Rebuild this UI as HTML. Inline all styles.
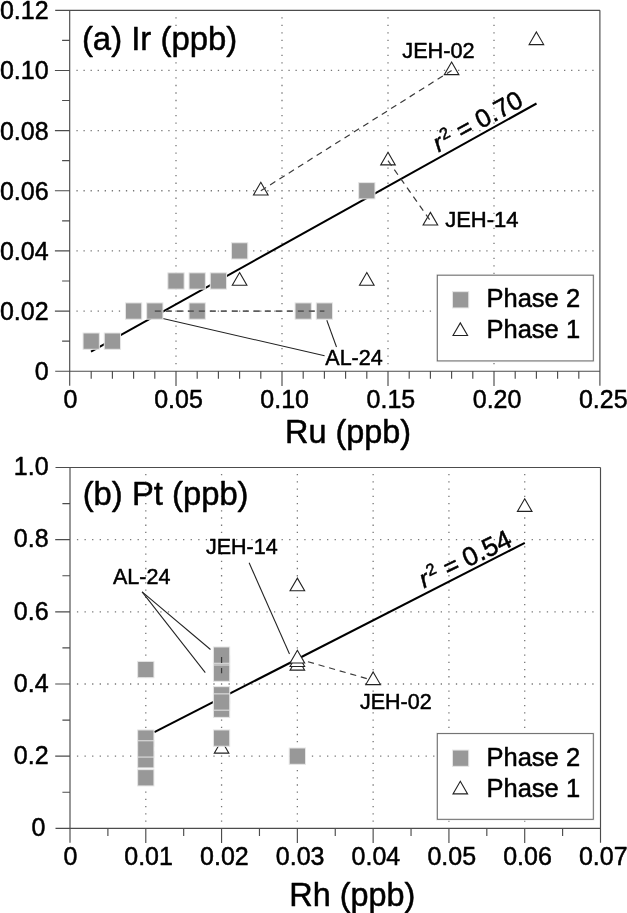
<!DOCTYPE html><html><head><meta charset="utf-8"><title>chart</title><style>html,body{margin:0;padding:0;background:#fff}svg{display:block}text{stroke:#000;stroke-width:.5px;stroke-linejoin:round}</style></head><body>
<svg width="627" height="913" viewBox="0 0 627 913">
<defs><filter id="soft" x="0" y="0" width="627" height="913" filterUnits="userSpaceOnUse" color-interpolation-filters="sRGB"><feGaussianBlur stdDeviation="0.38"/></filter></defs>
<g filter="url(#soft)">
<rect width="627" height="913" fill="#fff"/>
<path d="M76.42 70.45h1.3M76.42 130.60h1.3M76.42 190.75h1.3M76.42 250.90h1.3M76.42 311.05h1.3M83.48 70.45h1.3M83.48 130.60h1.3M83.48 190.75h1.3M83.48 250.90h1.3M83.48 311.05h1.3M90.55 70.45h1.3M90.55 130.60h1.3M90.55 190.75h1.3M90.55 250.90h1.3M90.55 311.05h1.3M97.62 70.45h1.3M97.62 130.60h1.3M97.62 190.75h1.3M97.62 250.90h1.3M97.62 311.05h1.3M104.68 70.45h1.3M104.68 130.60h1.3M104.68 190.75h1.3M104.68 250.90h1.3M104.68 311.05h1.3M111.75 70.45h1.3M111.75 130.60h1.3M111.75 190.75h1.3M111.75 250.90h1.3M111.75 311.05h1.3M118.82 70.45h1.3M118.82 130.60h1.3M118.82 190.75h1.3M118.82 250.90h1.3M118.82 311.05h1.3M125.88 70.45h1.3M125.88 130.60h1.3M125.88 190.75h1.3M125.88 250.90h1.3M125.88 311.05h1.3M132.95 70.45h1.3M132.95 130.60h1.3M132.95 190.75h1.3M132.95 250.90h1.3M132.95 311.05h1.3M140.02 70.45h1.3M140.02 130.60h1.3M140.02 190.75h1.3M140.02 250.90h1.3M140.02 311.05h1.3M147.08 70.45h1.3M147.08 130.60h1.3M147.08 190.75h1.3M147.08 250.90h1.3M147.08 311.05h1.3M154.15 70.45h1.3M154.15 130.60h1.3M154.15 190.75h1.3M154.15 250.90h1.3M154.15 311.05h1.3M161.22 70.45h1.3M161.22 130.60h1.3M161.22 190.75h1.3M161.22 250.90h1.3M161.22 311.05h1.3M168.28 70.45h1.3M168.28 130.60h1.3M168.28 190.75h1.3M168.28 250.90h1.3M168.28 311.05h1.3M175.35 17.82h1.3M175.35 25.34h1.3M175.35 32.86h1.3M175.35 40.38h1.3M175.35 47.89h1.3M175.35 55.41h1.3M175.35 62.93h1.3M175.35 70.45h1.3M175.35 77.97h1.3M175.35 85.49h1.3M175.35 93.01h1.3M175.35 100.52h1.3M175.35 108.04h1.3M175.35 115.56h1.3M175.35 123.08h1.3M175.35 130.60h1.3M175.35 138.12h1.3M175.35 145.64h1.3M175.35 153.16h1.3M175.35 160.67h1.3M175.35 168.19h1.3M175.35 175.71h1.3M175.35 183.23h1.3M175.35 190.75h1.3M175.35 198.27h1.3M175.35 205.79h1.3M175.35 213.31h1.3M175.35 220.82h1.3M175.35 228.34h1.3M175.35 235.86h1.3M175.35 243.38h1.3M175.35 250.90h1.3M175.35 258.42h1.3M175.35 265.94h1.3M175.35 273.46h1.3M175.35 280.98h1.3M175.35 288.49h1.3M175.35 296.01h1.3M175.35 303.53h1.3M175.35 311.05h1.3M175.35 318.57h1.3M175.35 326.09h1.3M175.35 333.61h1.3M175.35 341.12h1.3M175.35 348.64h1.3M175.35 356.16h1.3M175.35 363.68h1.3M182.42 70.45h1.3M182.42 130.60h1.3M182.42 190.75h1.3M182.42 250.90h1.3M182.42 311.05h1.3M189.48 70.45h1.3M189.48 130.60h1.3M189.48 190.75h1.3M189.48 250.90h1.3M189.48 311.05h1.3M196.55 70.45h1.3M196.55 130.60h1.3M196.55 190.75h1.3M196.55 250.90h1.3M196.55 311.05h1.3M203.62 70.45h1.3M203.62 130.60h1.3M203.62 190.75h1.3M203.62 250.90h1.3M203.62 311.05h1.3M210.68 70.45h1.3M210.68 130.60h1.3M210.68 190.75h1.3M210.68 250.90h1.3M210.68 311.05h1.3M217.75 70.45h1.3M217.75 130.60h1.3M217.75 190.75h1.3M217.75 250.90h1.3M217.75 311.05h1.3M224.82 70.45h1.3M224.82 130.60h1.3M224.82 190.75h1.3M224.82 250.90h1.3M224.82 311.05h1.3M231.88 70.45h1.3M231.88 130.60h1.3M231.88 190.75h1.3M231.88 250.90h1.3M231.88 311.05h1.3M238.95 70.45h1.3M238.95 130.60h1.3M238.95 190.75h1.3M238.95 250.90h1.3M238.95 311.05h1.3M246.02 70.45h1.3M246.02 130.60h1.3M246.02 190.75h1.3M246.02 250.90h1.3M246.02 311.05h1.3M253.08 70.45h1.3M253.08 130.60h1.3M253.08 190.75h1.3M253.08 250.90h1.3M253.08 311.05h1.3M260.15 70.45h1.3M260.15 130.60h1.3M260.15 190.75h1.3M260.15 250.90h1.3M260.15 311.05h1.3M267.22 70.45h1.3M267.22 130.60h1.3M267.22 190.75h1.3M267.22 250.90h1.3M267.22 311.05h1.3M274.28 70.45h1.3M274.28 130.60h1.3M274.28 190.75h1.3M274.28 250.90h1.3M274.28 311.05h1.3M281.35 17.82h1.3M281.35 25.34h1.3M281.35 32.86h1.3M281.35 40.38h1.3M281.35 47.89h1.3M281.35 55.41h1.3M281.35 62.93h1.3M281.35 70.45h1.3M281.35 77.97h1.3M281.35 85.49h1.3M281.35 93.01h1.3M281.35 100.52h1.3M281.35 108.04h1.3M281.35 115.56h1.3M281.35 123.08h1.3M281.35 130.60h1.3M281.35 138.12h1.3M281.35 145.64h1.3M281.35 153.16h1.3M281.35 160.67h1.3M281.35 168.19h1.3M281.35 175.71h1.3M281.35 183.23h1.3M281.35 190.75h1.3M281.35 198.27h1.3M281.35 205.79h1.3M281.35 213.31h1.3M281.35 220.82h1.3M281.35 228.34h1.3M281.35 235.86h1.3M281.35 243.38h1.3M281.35 250.90h1.3M281.35 258.42h1.3M281.35 265.94h1.3M281.35 273.46h1.3M281.35 280.98h1.3M281.35 288.49h1.3M281.35 296.01h1.3M281.35 303.53h1.3M281.35 311.05h1.3M281.35 318.57h1.3M281.35 326.09h1.3M281.35 333.61h1.3M281.35 341.12h1.3M281.35 348.64h1.3M281.35 356.16h1.3M281.35 363.68h1.3M288.42 70.45h1.3M288.42 130.60h1.3M288.42 190.75h1.3M288.42 250.90h1.3M288.42 311.05h1.3M295.48 70.45h1.3M295.48 130.60h1.3M295.48 190.75h1.3M295.48 250.90h1.3M295.48 311.05h1.3M302.55 70.45h1.3M302.55 130.60h1.3M302.55 190.75h1.3M302.55 250.90h1.3M302.55 311.05h1.3M309.62 70.45h1.3M309.62 130.60h1.3M309.62 190.75h1.3M309.62 250.90h1.3M309.62 311.05h1.3M316.68 70.45h1.3M316.68 130.60h1.3M316.68 190.75h1.3M316.68 250.90h1.3M316.68 311.05h1.3M323.75 70.45h1.3M323.75 130.60h1.3M323.75 190.75h1.3M323.75 250.90h1.3M323.75 311.05h1.3M330.82 70.45h1.3M330.82 130.60h1.3M330.82 190.75h1.3M330.82 250.90h1.3M330.82 311.05h1.3M337.88 70.45h1.3M337.88 130.60h1.3M337.88 190.75h1.3M337.88 250.90h1.3M337.88 311.05h1.3M344.95 70.45h1.3M344.95 130.60h1.3M344.95 190.75h1.3M344.95 250.90h1.3M344.95 311.05h1.3M352.02 70.45h1.3M352.02 130.60h1.3M352.02 190.75h1.3M352.02 250.90h1.3M352.02 311.05h1.3M359.08 70.45h1.3M359.08 130.60h1.3M359.08 190.75h1.3M359.08 250.90h1.3M359.08 311.05h1.3M366.15 70.45h1.3M366.15 130.60h1.3M366.15 190.75h1.3M366.15 250.90h1.3M366.15 311.05h1.3M373.22 70.45h1.3M373.22 130.60h1.3M373.22 190.75h1.3M373.22 250.90h1.3M373.22 311.05h1.3M380.28 70.45h1.3M380.28 130.60h1.3M380.28 190.75h1.3M380.28 250.90h1.3M380.28 311.05h1.3M387.35 17.82h1.3M387.35 25.34h1.3M387.35 32.86h1.3M387.35 40.38h1.3M387.35 47.89h1.3M387.35 55.41h1.3M387.35 62.93h1.3M387.35 70.45h1.3M387.35 77.97h1.3M387.35 85.49h1.3M387.35 93.01h1.3M387.35 100.52h1.3M387.35 108.04h1.3M387.35 115.56h1.3M387.35 123.08h1.3M387.35 130.60h1.3M387.35 138.12h1.3M387.35 145.64h1.3M387.35 153.16h1.3M387.35 160.67h1.3M387.35 168.19h1.3M387.35 175.71h1.3M387.35 183.23h1.3M387.35 190.75h1.3M387.35 198.27h1.3M387.35 205.79h1.3M387.35 213.31h1.3M387.35 220.82h1.3M387.35 228.34h1.3M387.35 235.86h1.3M387.35 243.38h1.3M387.35 250.90h1.3M387.35 258.42h1.3M387.35 265.94h1.3M387.35 273.46h1.3M387.35 280.98h1.3M387.35 288.49h1.3M387.35 296.01h1.3M387.35 303.53h1.3M387.35 311.05h1.3M387.35 318.57h1.3M387.35 326.09h1.3M387.35 333.61h1.3M387.35 341.12h1.3M387.35 348.64h1.3M387.35 356.16h1.3M387.35 363.68h1.3M394.42 70.45h1.3M394.42 130.60h1.3M394.42 190.75h1.3M394.42 250.90h1.3M394.42 311.05h1.3M401.48 70.45h1.3M401.48 130.60h1.3M401.48 190.75h1.3M401.48 250.90h1.3M401.48 311.05h1.3M408.55 70.45h1.3M408.55 130.60h1.3M408.55 190.75h1.3M408.55 250.90h1.3M408.55 311.05h1.3M415.62 70.45h1.3M415.62 130.60h1.3M415.62 190.75h1.3M415.62 250.90h1.3M415.62 311.05h1.3M422.68 70.45h1.3M422.68 130.60h1.3M422.68 190.75h1.3M422.68 250.90h1.3M422.68 311.05h1.3M429.75 70.45h1.3M429.75 130.60h1.3M429.75 190.75h1.3M429.75 250.90h1.3M429.75 311.05h1.3M436.82 70.45h1.3M436.82 130.60h1.3M436.82 190.75h1.3M436.82 250.90h1.3M436.82 311.05h1.3M443.88 70.45h1.3M443.88 130.60h1.3M443.88 190.75h1.3M443.88 250.90h1.3M443.88 311.05h1.3M450.95 70.45h1.3M450.95 130.60h1.3M450.95 190.75h1.3M450.95 250.90h1.3M450.95 311.05h1.3M458.02 70.45h1.3M458.02 130.60h1.3M458.02 190.75h1.3M458.02 250.90h1.3M458.02 311.05h1.3M465.08 70.45h1.3M465.08 130.60h1.3M465.08 190.75h1.3M465.08 250.90h1.3M465.08 311.05h1.3M472.15 70.45h1.3M472.15 130.60h1.3M472.15 190.75h1.3M472.15 250.90h1.3M472.15 311.05h1.3M479.22 70.45h1.3M479.22 130.60h1.3M479.22 190.75h1.3M479.22 250.90h1.3M479.22 311.05h1.3M486.28 70.45h1.3M486.28 130.60h1.3M486.28 190.75h1.3M486.28 250.90h1.3M486.28 311.05h1.3M493.35 17.82h1.3M493.35 25.34h1.3M493.35 32.86h1.3M493.35 40.38h1.3M493.35 47.89h1.3M493.35 55.41h1.3M493.35 62.93h1.3M493.35 70.45h1.3M493.35 77.97h1.3M493.35 85.49h1.3M493.35 93.01h1.3M493.35 100.52h1.3M493.35 108.04h1.3M493.35 115.56h1.3M493.35 123.08h1.3M493.35 130.60h1.3M493.35 138.12h1.3M493.35 145.64h1.3M493.35 153.16h1.3M493.35 160.67h1.3M493.35 168.19h1.3M493.35 175.71h1.3M493.35 183.23h1.3M493.35 190.75h1.3M493.35 198.27h1.3M493.35 205.79h1.3M493.35 213.31h1.3M493.35 220.82h1.3M493.35 228.34h1.3M493.35 235.86h1.3M493.35 243.38h1.3M493.35 250.90h1.3M493.35 258.42h1.3M493.35 265.94h1.3M493.35 273.46h1.3M493.35 280.98h1.3M493.35 288.49h1.3M493.35 296.01h1.3M493.35 303.53h1.3M493.35 311.05h1.3M493.35 318.57h1.3M493.35 326.09h1.3M493.35 333.61h1.3M493.35 341.12h1.3M493.35 348.64h1.3M493.35 356.16h1.3M493.35 363.68h1.3M500.42 70.45h1.3M500.42 130.60h1.3M500.42 190.75h1.3M500.42 250.90h1.3M500.42 311.05h1.3M507.48 70.45h1.3M507.48 130.60h1.3M507.48 190.75h1.3M507.48 250.90h1.3M507.48 311.05h1.3M514.55 70.45h1.3M514.55 130.60h1.3M514.55 190.75h1.3M514.55 250.90h1.3M514.55 311.05h1.3M521.62 70.45h1.3M521.62 130.60h1.3M521.62 190.75h1.3M521.62 250.90h1.3M521.62 311.05h1.3M528.68 70.45h1.3M528.68 130.60h1.3M528.68 190.75h1.3M528.68 250.90h1.3M528.68 311.05h1.3M535.75 70.45h1.3M535.75 130.60h1.3M535.75 190.75h1.3M535.75 250.90h1.3M535.75 311.05h1.3M542.82 70.45h1.3M542.82 130.60h1.3M542.82 190.75h1.3M542.82 250.90h1.3M542.82 311.05h1.3M549.88 70.45h1.3M549.88 130.60h1.3M549.88 190.75h1.3M549.88 250.90h1.3M549.88 311.05h1.3M556.95 70.45h1.3M556.95 130.60h1.3M556.95 190.75h1.3M556.95 250.90h1.3M556.95 311.05h1.3M564.02 70.45h1.3M564.02 130.60h1.3M564.02 190.75h1.3M564.02 250.90h1.3M564.02 311.05h1.3M571.08 70.45h1.3M571.08 130.60h1.3M571.08 190.75h1.3M571.08 250.90h1.3M571.08 311.05h1.3M578.15 70.45h1.3M578.15 130.60h1.3M578.15 190.75h1.3M578.15 250.90h1.3M578.15 311.05h1.3M585.22 70.45h1.3M585.22 130.60h1.3M585.22 190.75h1.3M585.22 250.90h1.3M585.22 311.05h1.3M592.28 70.45h1.3M592.28 130.60h1.3M592.28 190.75h1.3M592.28 250.90h1.3M592.28 311.05h1.3" stroke="#777" stroke-width="1.3" fill="none"/>
<path d="M91 351.6L536.5 103.5" stroke="#000" stroke-width="2.05" fill="none"/>
<path d="M162.80 318.60L324.60 355.70" stroke="#222" stroke-width="1.05" fill="none"/>
<path d="M326.80 320.20L336.50 347.00" stroke="#222" stroke-width="1.05" fill="none"/>
<path d="M239.60 272.55L246.90 285.19L232.30 285.19Z" fill="#fff" stroke="#222" stroke-width="1.1" stroke-linejoin="miter"/>
<path d="M260.80 182.32L268.10 194.96L253.50 194.96Z" fill="#fff" stroke="#222" stroke-width="1.1" stroke-linejoin="miter"/>
<path d="M366.80 272.55L374.10 285.19L359.50 285.19Z" fill="#fff" stroke="#222" stroke-width="1.1" stroke-linejoin="miter"/>
<path d="M388.00 152.25L395.30 164.89L380.70 164.89Z" fill="#fff" stroke="#222" stroke-width="1.1" stroke-linejoin="miter"/>
<path d="M430.40 212.40L437.70 225.04L423.10 225.04Z" fill="#fff" stroke="#222" stroke-width="1.1" stroke-linejoin="miter"/>
<path d="M451.60 62.02L458.90 74.66L444.30 74.66Z" fill="#fff" stroke="#222" stroke-width="1.1" stroke-linejoin="miter"/>
<path d="M536.40 31.95L543.70 44.59L529.10 44.59Z" fill="#fff" stroke="#222" stroke-width="1.1" stroke-linejoin="miter"/>
<rect x="83.05" y="332.98" width="16.30" height="16.30" fill="#989898" stroke="#e6e6e6" stroke-width="1"/>
<rect x="104.25" y="332.98" width="16.30" height="16.30" fill="#989898" stroke="#e6e6e6" stroke-width="1"/>
<rect x="125.45" y="302.90" width="16.30" height="16.30" fill="#989898" stroke="#e6e6e6" stroke-width="1"/>
<rect x="146.65" y="302.90" width="16.30" height="16.30" fill="#989898" stroke="#e6e6e6" stroke-width="1"/>
<rect x="167.85" y="272.83" width="16.30" height="16.30" fill="#989898" stroke="#e6e6e6" stroke-width="1"/>
<rect x="189.05" y="272.83" width="16.30" height="16.30" fill="#989898" stroke="#e6e6e6" stroke-width="1"/>
<rect x="210.25" y="272.83" width="16.30" height="16.30" fill="#989898" stroke="#e6e6e6" stroke-width="1"/>
<rect x="189.05" y="302.90" width="16.30" height="16.30" fill="#989898" stroke="#e6e6e6" stroke-width="1"/>
<rect x="231.45" y="242.75" width="16.30" height="16.30" fill="#989898" stroke="#e6e6e6" stroke-width="1"/>
<rect x="295.05" y="302.90" width="16.30" height="16.30" fill="#989898" stroke="#e6e6e6" stroke-width="1"/>
<rect x="316.25" y="302.90" width="16.30" height="16.30" fill="#989898" stroke="#e6e6e6" stroke-width="1"/>
<rect x="358.65" y="182.60" width="16.30" height="16.30" fill="#989898" stroke="#e6e6e6" stroke-width="1"/>
<path d="M154.80 311.05L324.40 311.05" stroke="#5c5c5c" stroke-width="1.8" stroke-dasharray="6 5" fill="none"/>
<path d="M260.80 190.75L451.60 70.45" stroke="#3a3a3a" stroke-width="1.2" stroke-dasharray="6.2 4.8" fill="none"/>
<path d="M388.00 160.67L430.40 220.82" stroke="#3a3a3a" stroke-width="1.2" stroke-dasharray="6.2 4.8" fill="none"/>
<rect x="437.30" y="275.20" width="156.00" height="85.70" fill="#fff" stroke="#f1f1f1" stroke-width="2.6"/>
<rect x="437.30" y="275.20" width="156.00" height="85.70" fill="#fff" stroke="#666" stroke-width="1"/>
<rect x="452.45" y="291.65" width="16.30" height="16.30" fill="#989898" stroke="#e6e6e6" stroke-width="1"/>
<path d="M460.30 322.87L467.60 335.51L453.00 335.51Z" fill="#fff" stroke="#222" stroke-width="1.1" stroke-linejoin="miter"/>
<text x="486.5" y="307.20" font-size="25.5" font-family="Liberation Sans, sans-serif">Phase 2</text>
<text x="486.5" y="338.40" font-size="25.5" font-family="Liberation Sans, sans-serif">Phase 1</text>
<path d="M69.70 10.30V385.70M55.20 371.20H599.90M55.20 10.30H599.90M599.90 10.30V385.70M69.70 341.12h-7.60M69.70 311.05h-14.80M69.70 280.98h-7.60M69.70 250.90h-14.80M69.70 220.82h-7.60M69.70 190.75h-14.80M69.70 160.67h-7.60M69.70 130.60h-14.80M69.70 100.52h-7.60M69.70 70.45h-14.80M69.70 40.38h-7.60M91.20 371.20v7.60M112.40 371.20v7.60M133.60 371.20v7.60M154.80 371.20v7.60M176.00 371.20v14.80M197.20 371.20v7.60M218.40 371.20v7.60M239.60 371.20v7.60M260.80 371.20v7.60M282.00 371.20v14.80M303.20 371.20v7.60M324.40 371.20v7.60M345.60 371.20v7.60M366.80 371.20v7.60M388.00 371.20v14.80M409.20 371.20v7.60M430.40 371.20v7.60M451.60 371.20v7.60M472.80 371.20v7.60M494.00 371.20v14.80M515.20 371.20v7.60M536.40 371.20v7.60M557.60 371.20v7.60M578.80 371.20v7.60" stroke="#4c4c4c" stroke-width="1.15" fill="none"/>
<text x="48.60" y="380.10" text-anchor="end" font-size="25" font-family="Liberation Sans, sans-serif">0</text>
<text x="48.60" y="319.95" text-anchor="end" font-size="25" font-family="Liberation Sans, sans-serif">0.02</text>
<text x="48.60" y="259.80" text-anchor="end" font-size="25" font-family="Liberation Sans, sans-serif">0.04</text>
<text x="48.60" y="199.65" text-anchor="end" font-size="25" font-family="Liberation Sans, sans-serif">0.06</text>
<text x="48.60" y="139.50" text-anchor="end" font-size="25" font-family="Liberation Sans, sans-serif">0.08</text>
<text x="48.60" y="79.35" text-anchor="end" font-size="25" font-family="Liberation Sans, sans-serif">0.10</text>
<text x="48.60" y="19.20" text-anchor="end" font-size="25" font-family="Liberation Sans, sans-serif">0.12</text>
<text x="70.50" y="408.10" text-anchor="middle" font-size="25" font-family="Liberation Sans, sans-serif">0</text>
<text x="178.50" y="408.10" text-anchor="middle" font-size="25" font-family="Liberation Sans, sans-serif">0.05</text>
<text x="284.70" y="408.10" text-anchor="middle" font-size="25" font-family="Liberation Sans, sans-serif">0.10</text>
<text x="390.90" y="408.10" text-anchor="middle" font-size="25" font-family="Liberation Sans, sans-serif">0.15</text>
<text x="497.10" y="408.10" text-anchor="middle" font-size="25" font-family="Liberation Sans, sans-serif">0.20</text>
<text x="603.30" y="408.10" text-anchor="middle" font-size="25" font-family="Liberation Sans, sans-serif">0.25</text>
<text x="81.9" y="49.6" font-size="32.9" font-family="Liberation Sans, sans-serif">(a) Ir (ppb)</text>
<text x="348" y="442.7" text-anchor="middle" font-size="32.4" font-family="Liberation Sans, sans-serif">Ru (ppb)</text>
<text x="402.3" y="58.4" font-size="21.7" font-family="Liberation Sans, sans-serif">JEH-02</text>
<text x="445.2" y="226.5" font-size="22" font-family="Liberation Sans, sans-serif">JEH-14</text>
<text x="325.3" y="364.8" font-size="21.5" font-family="Liberation Sans, sans-serif">AL-24</text>
<text transform="translate(438.6 152.4) rotate(-28.6)" font-size="25" font-family="Liberation Sans, sans-serif"><tspan font-style="italic">r</tspan><tspan font-size="16.5" dx="1.5" dy="-8.3">2</tspan><tspan dx="0.8" dy="8.3"> =</tspan><tspan font-size="25.7" dx="-0.3"> 0.70</tspan></text>
<path d="M76.93 539.66h1.3M76.93 611.82h1.3M76.93 683.98h1.3M76.93 756.14h1.3M84.51 539.66h1.3M84.51 611.82h1.3M84.51 683.98h1.3M84.51 756.14h1.3M92.09 539.66h1.3M92.09 611.82h1.3M92.09 683.98h1.3M92.09 756.14h1.3M99.66 539.66h1.3M99.66 611.82h1.3M99.66 683.98h1.3M99.66 756.14h1.3M107.24 539.66h1.3M107.24 611.82h1.3M107.24 683.98h1.3M107.24 756.14h1.3M114.82 539.66h1.3M114.82 611.82h1.3M114.82 683.98h1.3M114.82 756.14h1.3M122.40 539.66h1.3M122.40 611.82h1.3M122.40 683.98h1.3M122.40 756.14h1.3M129.98 539.66h1.3M129.98 611.82h1.3M129.98 683.98h1.3M129.98 756.14h1.3M137.56 539.66h1.3M137.56 611.82h1.3M137.56 683.98h1.3M137.56 756.14h1.3M145.14 474.72h1.3M145.14 481.93h1.3M145.14 489.15h1.3M145.14 496.36h1.3M145.14 503.58h1.3M145.14 510.80h1.3M145.14 518.01h1.3M145.14 525.23h1.3M145.14 532.44h1.3M145.14 539.66h1.3M145.14 546.88h1.3M145.14 554.09h1.3M145.14 561.31h1.3M145.14 568.52h1.3M145.14 575.74h1.3M145.14 582.96h1.3M145.14 590.17h1.3M145.14 597.39h1.3M145.14 604.60h1.3M145.14 611.82h1.3M145.14 619.04h1.3M145.14 626.25h1.3M145.14 633.47h1.3M145.14 640.68h1.3M145.14 647.90h1.3M145.14 655.12h1.3M145.14 662.33h1.3M145.14 669.55h1.3M145.14 676.76h1.3M145.14 683.98h1.3M145.14 691.20h1.3M145.14 698.41h1.3M145.14 705.63h1.3M145.14 712.84h1.3M145.14 720.06h1.3M145.14 727.28h1.3M145.14 734.49h1.3M145.14 741.71h1.3M145.14 748.92h1.3M145.14 756.14h1.3M145.14 763.36h1.3M145.14 770.57h1.3M145.14 777.79h1.3M145.14 785.00h1.3M145.14 792.22h1.3M145.14 799.44h1.3M145.14 806.65h1.3M145.14 813.87h1.3M145.14 821.08h1.3M152.71 539.66h1.3M152.71 611.82h1.3M152.71 683.98h1.3M152.71 756.14h1.3M160.29 539.66h1.3M160.29 611.82h1.3M160.29 683.98h1.3M160.29 756.14h1.3M167.87 539.66h1.3M167.87 611.82h1.3M167.87 683.98h1.3M167.87 756.14h1.3M175.45 539.66h1.3M175.45 611.82h1.3M175.45 683.98h1.3M175.45 756.14h1.3M183.03 539.66h1.3M183.03 611.82h1.3M183.03 683.98h1.3M183.03 756.14h1.3M190.61 539.66h1.3M190.61 611.82h1.3M190.61 683.98h1.3M190.61 756.14h1.3M198.19 539.66h1.3M198.19 611.82h1.3M198.19 683.98h1.3M198.19 756.14h1.3M205.76 539.66h1.3M205.76 611.82h1.3M205.76 683.98h1.3M205.76 756.14h1.3M213.34 539.66h1.3M213.34 611.82h1.3M213.34 683.98h1.3M213.34 756.14h1.3M220.92 474.72h1.3M220.92 481.93h1.3M220.92 489.15h1.3M220.92 496.36h1.3M220.92 503.58h1.3M220.92 510.80h1.3M220.92 518.01h1.3M220.92 525.23h1.3M220.92 532.44h1.3M220.92 539.66h1.3M220.92 546.88h1.3M220.92 554.09h1.3M220.92 561.31h1.3M220.92 568.52h1.3M220.92 575.74h1.3M220.92 582.96h1.3M220.92 590.17h1.3M220.92 597.39h1.3M220.92 604.60h1.3M220.92 611.82h1.3M220.92 619.04h1.3M220.92 626.25h1.3M220.92 633.47h1.3M220.92 640.68h1.3M220.92 647.90h1.3M220.92 655.12h1.3M220.92 662.33h1.3M220.92 669.55h1.3M220.92 676.76h1.3M220.92 683.98h1.3M220.92 691.20h1.3M220.92 698.41h1.3M220.92 705.63h1.3M220.92 712.84h1.3M220.92 720.06h1.3M220.92 727.28h1.3M220.92 734.49h1.3M220.92 741.71h1.3M220.92 748.92h1.3M220.92 756.14h1.3M220.92 763.36h1.3M220.92 770.57h1.3M220.92 777.79h1.3M220.92 785.00h1.3M220.92 792.22h1.3M220.92 799.44h1.3M220.92 806.65h1.3M220.92 813.87h1.3M220.92 821.08h1.3M228.50 539.66h1.3M228.50 611.82h1.3M228.50 683.98h1.3M228.50 756.14h1.3M236.08 539.66h1.3M236.08 611.82h1.3M236.08 683.98h1.3M236.08 756.14h1.3M243.66 539.66h1.3M243.66 611.82h1.3M243.66 683.98h1.3M243.66 756.14h1.3M251.24 539.66h1.3M251.24 611.82h1.3M251.24 683.98h1.3M251.24 756.14h1.3M258.81 539.66h1.3M258.81 611.82h1.3M258.81 683.98h1.3M258.81 756.14h1.3M266.39 539.66h1.3M266.39 611.82h1.3M266.39 683.98h1.3M266.39 756.14h1.3M273.97 539.66h1.3M273.97 611.82h1.3M273.97 683.98h1.3M273.97 756.14h1.3M281.55 539.66h1.3M281.55 611.82h1.3M281.55 683.98h1.3M281.55 756.14h1.3M289.13 539.66h1.3M289.13 611.82h1.3M289.13 683.98h1.3M289.13 756.14h1.3M296.71 474.72h1.3M296.71 481.93h1.3M296.71 489.15h1.3M296.71 496.36h1.3M296.71 503.58h1.3M296.71 510.80h1.3M296.71 518.01h1.3M296.71 525.23h1.3M296.71 532.44h1.3M296.71 539.66h1.3M296.71 546.88h1.3M296.71 554.09h1.3M296.71 561.31h1.3M296.71 568.52h1.3M296.71 575.74h1.3M296.71 582.96h1.3M296.71 590.17h1.3M296.71 597.39h1.3M296.71 604.60h1.3M296.71 611.82h1.3M296.71 619.04h1.3M296.71 626.25h1.3M296.71 633.47h1.3M296.71 640.68h1.3M296.71 647.90h1.3M296.71 655.12h1.3M296.71 662.33h1.3M296.71 669.55h1.3M296.71 676.76h1.3M296.71 683.98h1.3M296.71 691.20h1.3M296.71 698.41h1.3M296.71 705.63h1.3M296.71 712.84h1.3M296.71 720.06h1.3M296.71 727.28h1.3M296.71 734.49h1.3M296.71 741.71h1.3M296.71 748.92h1.3M296.71 756.14h1.3M296.71 763.36h1.3M296.71 770.57h1.3M296.71 777.79h1.3M296.71 785.00h1.3M296.71 792.22h1.3M296.71 799.44h1.3M296.71 806.65h1.3M296.71 813.87h1.3M296.71 821.08h1.3M304.29 539.66h1.3M304.29 611.82h1.3M304.29 683.98h1.3M304.29 756.14h1.3M311.86 539.66h1.3M311.86 611.82h1.3M311.86 683.98h1.3M311.86 756.14h1.3M319.44 539.66h1.3M319.44 611.82h1.3M319.44 683.98h1.3M319.44 756.14h1.3M327.02 539.66h1.3M327.02 611.82h1.3M327.02 683.98h1.3M327.02 756.14h1.3M334.60 539.66h1.3M334.60 611.82h1.3M334.60 683.98h1.3M334.60 756.14h1.3M342.18 539.66h1.3M342.18 611.82h1.3M342.18 683.98h1.3M342.18 756.14h1.3M349.76 539.66h1.3M349.76 611.82h1.3M349.76 683.98h1.3M349.76 756.14h1.3M357.34 539.66h1.3M357.34 611.82h1.3M357.34 683.98h1.3M357.34 756.14h1.3M364.91 539.66h1.3M364.91 611.82h1.3M364.91 683.98h1.3M364.91 756.14h1.3M372.49 474.72h1.3M372.49 481.93h1.3M372.49 489.15h1.3M372.49 496.36h1.3M372.49 503.58h1.3M372.49 510.80h1.3M372.49 518.01h1.3M372.49 525.23h1.3M372.49 532.44h1.3M372.49 539.66h1.3M372.49 546.88h1.3M372.49 554.09h1.3M372.49 561.31h1.3M372.49 568.52h1.3M372.49 575.74h1.3M372.49 582.96h1.3M372.49 590.17h1.3M372.49 597.39h1.3M372.49 604.60h1.3M372.49 611.82h1.3M372.49 619.04h1.3M372.49 626.25h1.3M372.49 633.47h1.3M372.49 640.68h1.3M372.49 647.90h1.3M372.49 655.12h1.3M372.49 662.33h1.3M372.49 669.55h1.3M372.49 676.76h1.3M372.49 683.98h1.3M372.49 691.20h1.3M372.49 698.41h1.3M372.49 705.63h1.3M372.49 712.84h1.3M372.49 720.06h1.3M372.49 727.28h1.3M372.49 734.49h1.3M372.49 741.71h1.3M372.49 748.92h1.3M372.49 756.14h1.3M372.49 763.36h1.3M372.49 770.57h1.3M372.49 777.79h1.3M372.49 785.00h1.3M372.49 792.22h1.3M372.49 799.44h1.3M372.49 806.65h1.3M372.49 813.87h1.3M372.49 821.08h1.3M380.07 539.66h1.3M380.07 611.82h1.3M380.07 683.98h1.3M380.07 756.14h1.3M387.65 539.66h1.3M387.65 611.82h1.3M387.65 683.98h1.3M387.65 756.14h1.3M395.23 539.66h1.3M395.23 611.82h1.3M395.23 683.98h1.3M395.23 756.14h1.3M402.81 539.66h1.3M402.81 611.82h1.3M402.81 683.98h1.3M402.81 756.14h1.3M410.39 539.66h1.3M410.39 611.82h1.3M410.39 683.98h1.3M410.39 756.14h1.3M417.96 539.66h1.3M417.96 611.82h1.3M417.96 683.98h1.3M417.96 756.14h1.3M425.54 539.66h1.3M425.54 611.82h1.3M425.54 683.98h1.3M425.54 756.14h1.3M433.12 539.66h1.3M433.12 611.82h1.3M433.12 683.98h1.3M433.12 756.14h1.3M440.70 539.66h1.3M440.70 611.82h1.3M440.70 683.98h1.3M440.70 756.14h1.3M448.28 474.72h1.3M448.28 481.93h1.3M448.28 489.15h1.3M448.28 496.36h1.3M448.28 503.58h1.3M448.28 510.80h1.3M448.28 518.01h1.3M448.28 525.23h1.3M448.28 532.44h1.3M448.28 539.66h1.3M448.28 546.88h1.3M448.28 554.09h1.3M448.28 561.31h1.3M448.28 568.52h1.3M448.28 575.74h1.3M448.28 582.96h1.3M448.28 590.17h1.3M448.28 597.39h1.3M448.28 604.60h1.3M448.28 611.82h1.3M448.28 619.04h1.3M448.28 626.25h1.3M448.28 633.47h1.3M448.28 640.68h1.3M448.28 647.90h1.3M448.28 655.12h1.3M448.28 662.33h1.3M448.28 669.55h1.3M448.28 676.76h1.3M448.28 683.98h1.3M448.28 691.20h1.3M448.28 698.41h1.3M448.28 705.63h1.3M448.28 712.84h1.3M448.28 720.06h1.3M448.28 727.28h1.3M448.28 734.49h1.3M448.28 741.71h1.3M448.28 748.92h1.3M448.28 756.14h1.3M448.28 763.36h1.3M448.28 770.57h1.3M448.28 777.79h1.3M448.28 785.00h1.3M448.28 792.22h1.3M448.28 799.44h1.3M448.28 806.65h1.3M448.28 813.87h1.3M448.28 821.08h1.3M455.86 539.66h1.3M455.86 611.82h1.3M455.86 683.98h1.3M455.86 756.14h1.3M463.44 539.66h1.3M463.44 611.82h1.3M463.44 683.98h1.3M463.44 756.14h1.3M471.01 539.66h1.3M471.01 611.82h1.3M471.01 683.98h1.3M471.01 756.14h1.3M478.59 539.66h1.3M478.59 611.82h1.3M478.59 683.98h1.3M478.59 756.14h1.3M486.17 539.66h1.3M486.17 611.82h1.3M486.17 683.98h1.3M486.17 756.14h1.3M493.75 539.66h1.3M493.75 611.82h1.3M493.75 683.98h1.3M493.75 756.14h1.3M501.33 539.66h1.3M501.33 611.82h1.3M501.33 683.98h1.3M501.33 756.14h1.3M508.91 539.66h1.3M508.91 611.82h1.3M508.91 683.98h1.3M508.91 756.14h1.3M516.49 539.66h1.3M516.49 611.82h1.3M516.49 683.98h1.3M516.49 756.14h1.3M524.06 474.72h1.3M524.06 481.93h1.3M524.06 489.15h1.3M524.06 496.36h1.3M524.06 503.58h1.3M524.06 510.80h1.3M524.06 518.01h1.3M524.06 525.23h1.3M524.06 532.44h1.3M524.06 539.66h1.3M524.06 546.88h1.3M524.06 554.09h1.3M524.06 561.31h1.3M524.06 568.52h1.3M524.06 575.74h1.3M524.06 582.96h1.3M524.06 590.17h1.3M524.06 597.39h1.3M524.06 604.60h1.3M524.06 611.82h1.3M524.06 619.04h1.3M524.06 626.25h1.3M524.06 633.47h1.3M524.06 640.68h1.3M524.06 647.90h1.3M524.06 655.12h1.3M524.06 662.33h1.3M524.06 669.55h1.3M524.06 676.76h1.3M524.06 683.98h1.3M524.06 691.20h1.3M524.06 698.41h1.3M524.06 705.63h1.3M524.06 712.84h1.3M524.06 720.06h1.3M524.06 727.28h1.3M524.06 734.49h1.3M524.06 741.71h1.3M524.06 748.92h1.3M524.06 756.14h1.3M524.06 763.36h1.3M524.06 770.57h1.3M524.06 777.79h1.3M524.06 785.00h1.3M524.06 792.22h1.3M524.06 799.44h1.3M524.06 806.65h1.3M524.06 813.87h1.3M524.06 821.08h1.3M531.64 539.66h1.3M531.64 611.82h1.3M531.64 683.98h1.3M531.64 756.14h1.3M539.22 539.66h1.3M539.22 611.82h1.3M539.22 683.98h1.3M539.22 756.14h1.3M546.80 539.66h1.3M546.80 611.82h1.3M546.80 683.98h1.3M546.80 756.14h1.3M554.38 539.66h1.3M554.38 611.82h1.3M554.38 683.98h1.3M554.38 756.14h1.3M561.96 539.66h1.3M561.96 611.82h1.3M561.96 683.98h1.3M561.96 756.14h1.3M569.54 539.66h1.3M569.54 611.82h1.3M569.54 683.98h1.3M569.54 756.14h1.3M577.11 539.66h1.3M577.11 611.82h1.3M577.11 683.98h1.3M577.11 756.14h1.3M584.69 539.66h1.3M584.69 611.82h1.3M584.69 683.98h1.3M584.69 756.14h1.3M592.27 539.66h1.3M592.27 611.82h1.3M592.27 683.98h1.3M592.27 756.14h1.3" stroke="#777" stroke-width="1.3" fill="none"/>
<path d="M154.4 732.1L524.8 542.9" stroke="#000" stroke-width="2.05" fill="none"/>
<path d="M142.10 591.90L210.50 649.50" stroke="#222" stroke-width="1.05" fill="none"/>
<path d="M142.10 591.90L205.30 672.60" stroke="#222" stroke-width="1.05" fill="none"/>
<path d="M249.10 562.80L289.50 654.00" stroke="#222" stroke-width="1.05" fill="none"/>
<path d="M297.36 658.72L373.14 680.37" stroke="#3a3a3a" stroke-width="1.2" stroke-dasharray="6.2 4.8" fill="none"/>
<path d="M221.57 740.49L228.87 753.14L214.27 753.14Z" fill="#fff" stroke="#222" stroke-width="1.1" stroke-linejoin="miter"/>
<path d="M297.36 578.13L304.66 590.78L290.06 590.78Z" fill="#fff" stroke="#222" stroke-width="1.1" stroke-linejoin="miter"/>
<path d="M297.36 657.51L304.66 670.15L290.06 670.15Z" fill="#fff" stroke="#222" stroke-width="1.1" stroke-linejoin="miter"/>
<path d="M297.36 653.90L304.66 666.55L290.06 666.55Z" fill="#fff" stroke="#222" stroke-width="1.1" stroke-linejoin="miter"/>
<path d="M297.36 650.29L304.66 662.94L290.06 662.94Z" fill="#fff" stroke="#222" stroke-width="1.1" stroke-linejoin="miter"/>
<path d="M373.14 671.94L380.44 684.59L365.84 684.59Z" fill="#fff" stroke="#222" stroke-width="1.1" stroke-linejoin="miter"/>
<path d="M524.71 498.76L532.01 511.40L517.41 511.40Z" fill="#fff" stroke="#222" stroke-width="1.1" stroke-linejoin="miter"/>
<rect x="137.64" y="661.40" width="16.30" height="16.30" fill="#989898" stroke="#e6e6e6" stroke-width="1"/>
<rect x="137.64" y="729.95" width="16.30" height="16.30" fill="#989898" stroke="#e6e6e6" stroke-width="1"/>
<rect x="137.64" y="751.60" width="16.30" height="16.30" fill="#989898" stroke="#e6e6e6" stroke-width="1"/>
<rect x="137.64" y="769.64" width="16.30" height="16.30" fill="#989898" stroke="#e6e6e6" stroke-width="1"/>
<rect x="137.64" y="740.77" width="16.30" height="16.30" fill="#989898" stroke="#e6e6e6" stroke-width="1"/>
<rect x="213.42" y="655.99" width="16.30" height="16.30" fill="#989898" stroke="#e6e6e6" stroke-width="1"/>
<rect x="213.42" y="665.01" width="16.30" height="16.30" fill="#989898" stroke="#e6e6e6" stroke-width="1"/>
<rect x="213.42" y="646.97" width="16.30" height="16.30" fill="#989898" stroke="#e6e6e6" stroke-width="1"/>
<rect x="213.42" y="701.09" width="16.30" height="16.30" fill="#989898" stroke="#e6e6e6" stroke-width="1"/>
<rect x="213.42" y="686.65" width="16.30" height="16.30" fill="#989898" stroke="#e6e6e6" stroke-width="1"/>
<rect x="213.42" y="693.87" width="16.30" height="16.30" fill="#989898" stroke="#e6e6e6" stroke-width="1"/>
<rect x="213.42" y="729.95" width="16.30" height="16.30" fill="#989898" stroke="#e6e6e6" stroke-width="1"/>
<rect x="289.21" y="747.99" width="16.30" height="16.30" fill="#989898" stroke="#e6e6e6" stroke-width="1"/>
<path d="M221.57 656.92L221.57 673.16" stroke="#3a3a3a" stroke-width="1.2" stroke-dasharray="6.2 4.8" fill="none"/>
<rect x="437.30" y="733.60" width="156.00" height="85.70" fill="#fff" stroke="#f1f1f1" stroke-width="2.6"/>
<rect x="437.30" y="733.60" width="156.00" height="85.70" fill="#fff" stroke="#666" stroke-width="1"/>
<rect x="452.45" y="750.05" width="16.30" height="16.30" fill="#989898" stroke="#e6e6e6" stroke-width="1"/>
<path d="M460.30 781.27L467.60 793.91L453.00 793.91Z" fill="#fff" stroke="#222" stroke-width="1.1" stroke-linejoin="miter"/>
<text x="486.5" y="765.60" font-size="25.5" font-family="Liberation Sans, sans-serif">Phase 2</text>
<text x="486.5" y="796.80" font-size="25.5" font-family="Liberation Sans, sans-serif">Phase 1</text>
<path d="M70.00 467.50V842.80M55.50 828.30H600.50M55.50 467.50H600.50M600.50 467.50V842.80M70.00 792.22h-7.60M70.00 756.14h-14.80M70.00 720.06h-7.60M70.00 683.98h-14.80M70.00 647.90h-7.60M70.00 611.82h-14.80M70.00 575.74h-7.60M70.00 539.66h-14.80M70.00 503.58h-7.60M107.89 828.30v7.60M145.79 828.30v14.80M183.68 828.30v7.60M221.57 828.30v14.80M259.46 828.30v7.60M297.36 828.30v14.80M335.25 828.30v7.60M373.14 828.30v14.80M411.04 828.30v7.60M448.93 828.30v14.80M486.82 828.30v7.60M524.71 828.30v14.80M562.61 828.30v7.60" stroke="#4c4c4c" stroke-width="1.15" fill="none"/>
<text x="45.50" y="836.00" text-anchor="end" font-size="25" font-family="Liberation Sans, sans-serif">0</text>
<text x="48.60" y="763.84" text-anchor="end" font-size="25" font-family="Liberation Sans, sans-serif">0.2</text>
<text x="48.60" y="691.68" text-anchor="end" font-size="25" font-family="Liberation Sans, sans-serif">0.4</text>
<text x="48.60" y="619.52" text-anchor="end" font-size="25" font-family="Liberation Sans, sans-serif">0.6</text>
<text x="48.60" y="547.36" text-anchor="end" font-size="25" font-family="Liberation Sans, sans-serif">0.8</text>
<text x="48.60" y="475.20" text-anchor="end" font-size="25" font-family="Liberation Sans, sans-serif">1.0</text>
<text x="70.50" y="865.00" text-anchor="middle" font-size="25" font-family="Liberation Sans, sans-serif">0</text>
<text x="148.59" y="865.00" text-anchor="middle" font-size="25" font-family="Liberation Sans, sans-serif">0.01</text>
<text x="224.37" y="865.00" text-anchor="middle" font-size="25" font-family="Liberation Sans, sans-serif">0.02</text>
<text x="300.16" y="865.00" text-anchor="middle" font-size="25" font-family="Liberation Sans, sans-serif">0.03</text>
<text x="375.94" y="865.00" text-anchor="middle" font-size="25" font-family="Liberation Sans, sans-serif">0.04</text>
<text x="451.73" y="865.00" text-anchor="middle" font-size="25" font-family="Liberation Sans, sans-serif">0.05</text>
<text x="527.51" y="865.00" text-anchor="middle" font-size="25" font-family="Liberation Sans, sans-serif">0.06</text>
<text x="603.30" y="865.00" text-anchor="middle" font-size="25" font-family="Liberation Sans, sans-serif">0.07</text>
<text x="82.7" y="505.10" font-size="32.8" font-family="Liberation Sans, sans-serif">(b) Pt (ppb)</text>
<text x="352.3" y="906.10" text-anchor="middle" font-size="32.4" font-family="Liberation Sans, sans-serif">Rh (ppb)</text>
<text x="206" y="554" font-size="21.5" font-family="Liberation Sans, sans-serif">JEH-14</text>
<text x="113" y="584" font-size="21.5" font-family="Liberation Sans, sans-serif">AL-24</text>
<text x="360" y="708.7" font-size="21.5" font-family="Liberation Sans, sans-serif">JEH-02</text>
<text transform="translate(424.0 588.4) rotate(-25.6)" font-size="25" font-family="Liberation Sans, sans-serif"><tspan font-style="italic">r</tspan><tspan font-size="16.5" dx="1.5" dy="-8.5">2</tspan><tspan dx="0.8" dy="8.5"> =</tspan><tspan font-size="26.3" dx="-0.5"> 0.54</tspan></text>
</g></svg></body></html>
